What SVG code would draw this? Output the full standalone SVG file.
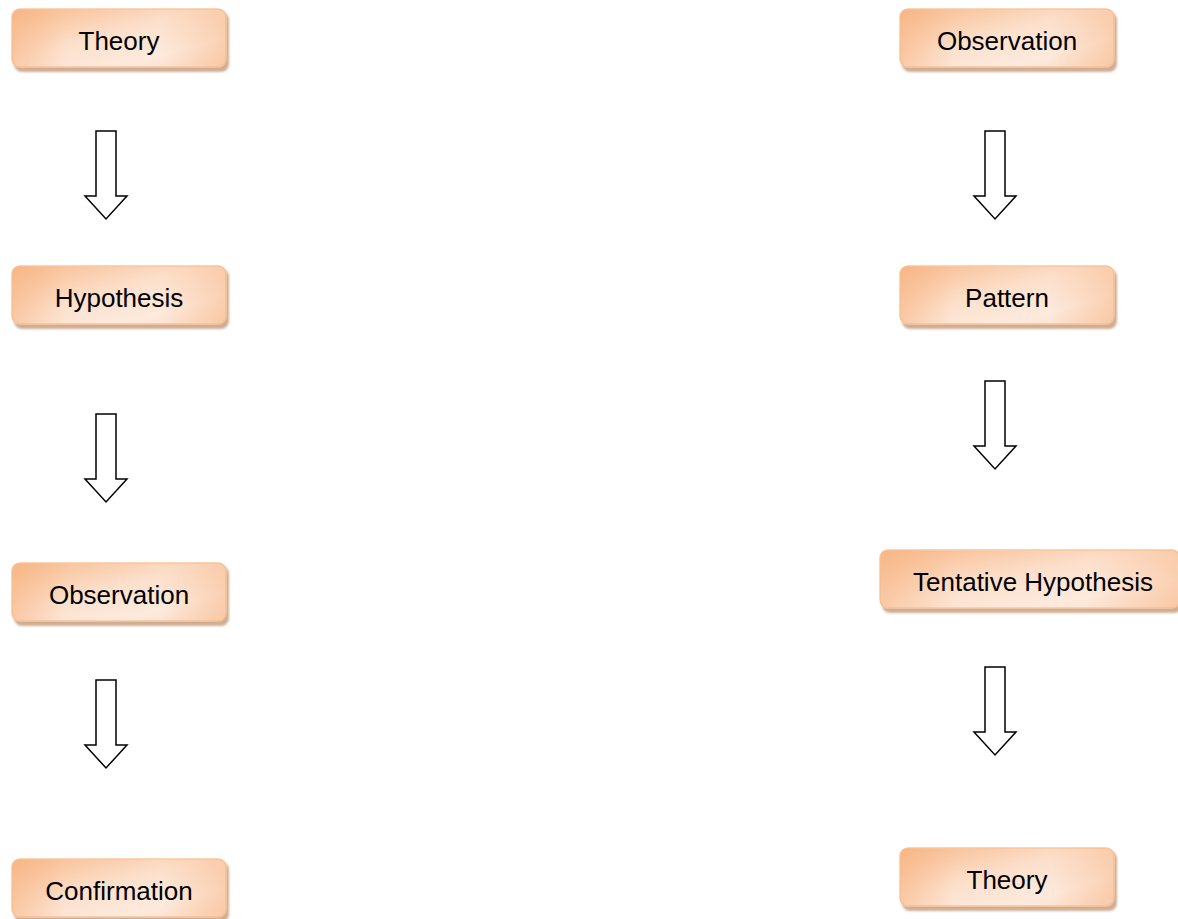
<svg xmlns="http://www.w3.org/2000/svg" width="1178" height="919" viewBox="0 0 1178 919">
<defs>
<linearGradient id="g" x1="0" y1="0" x2="1" y2="1">
<stop offset="0" stop-color="#F8B98A"/>
<stop offset="0.45" stop-color="#FCE0CC"/>
<stop offset="0.75" stop-color="#FDEADD"/>
<stop offset="1" stop-color="#FBDCC6"/>
</linearGradient>
<linearGradient id="g2" x1="0" y1="0" x2="1" y2="0">
<stop offset="0" stop-color="#F7B483" stop-opacity="0.55"/>
<stop offset="0.25" stop-color="#F7B483" stop-opacity="0"/>
<stop offset="0.7" stop-color="#F7B483" stop-opacity="0"/>
<stop offset="1" stop-color="#F7B483" stop-opacity="0.5"/>
</linearGradient>
<filter id="sh" x="-10%" y="-20%" width="120%" height="150%">
<feGaussianBlur stdDeviation="0.8"/>
</filter>
</defs>
<style>
.sh{fill:#C49A7A;opacity:0.8;filter:url(#sh)}
.bx{fill:url(#g);stroke:#F9C7A0;stroke-width:1.5}
.ov{fill:url(#g2)}
.t{font-family:"Liberation Sans",Arial,sans-serif;font-size:26px;fill:#000;text-anchor:middle}
.ar{fill:#fff;stroke:#000;stroke-width:1.5;stroke-linejoin:miter}
</style>
<g id="n-theory-l">
<rect class="sh" x="14" y="12" width="215" height="60" rx="8"/>
<rect class="bx" x="12" y="9" width="214" height="58" rx="8"/>
<rect class="ov" x="12" y="9" width="214" height="58" rx="8"/>
<text class="t" x="119" y="50">Theory</text>
</g>
<g id="n-hypothesis-l">
<rect class="sh" x="14" y="269" width="215" height="60" rx="8"/>
<rect class="bx" x="12" y="266" width="214" height="58" rx="8"/>
<rect class="ov" x="12" y="266" width="214" height="58" rx="8"/>
<text class="t" x="119" y="307">Hypothesis</text>
</g>
<g id="n-observation-l">
<rect class="sh" x="14" y="566" width="215" height="60" rx="8"/>
<rect class="bx" x="12" y="563" width="214" height="58" rx="8"/>
<rect class="ov" x="12" y="563" width="214" height="58" rx="8"/>
<text class="t" x="119" y="604">Observation</text>
</g>
<g id="n-confirmation-l">
<rect class="sh" x="14" y="862" width="215" height="60" rx="8"/>
<rect class="bx" x="12" y="859" width="214" height="58" rx="8"/>
<rect class="ov" x="12" y="859" width="214" height="58" rx="8"/>
<text class="t" x="119" y="900">Confirmation</text>
</g>
<g id="n-observation-r">
<rect class="sh" x="902" y="12" width="215" height="60" rx="8"/>
<rect class="bx" x="900" y="9" width="214" height="58" rx="8"/>
<rect class="ov" x="900" y="9" width="214" height="58" rx="8"/>
<text class="t" x="1007" y="50">Observation</text>
</g>
<g id="n-pattern-r">
<rect class="sh" x="902" y="269" width="215" height="60" rx="8"/>
<rect class="bx" x="900" y="266" width="214" height="58" rx="8"/>
<rect class="ov" x="900" y="266" width="214" height="58" rx="8"/>
<text class="t" x="1007" y="307">Pattern</text>
</g>
<g id="n-tentative-r">
<rect class="sh" x="882" y="553" width="300" height="60" rx="8"/>
<rect class="bx" x="880" y="550" width="300" height="58" rx="8"/>
<rect class="ov" x="880" y="550" width="300" height="58" rx="8"/>
<text class="t" x="1033" y="591">Tentative Hypothesis</text>
</g>
<g id="n-theory-r">
<rect class="sh" x="902" y="851" width="215" height="60" rx="8"/>
<rect class="bx" x="900" y="848" width="214" height="58" rx="8"/>
<rect class="ov" x="900" y="848" width="214" height="58" rx="8"/>
<text class="t" x="1007" y="889">Theory</text>
</g>
<g id="connectors">
<path class="ar" d="M96,131 H116 V196 H127 L106,219 L85,196 H96 Z"/>
<path class="ar" d="M96,414 H116 V479 H127 L106,502 L85,479 H96 Z"/>
<path class="ar" d="M96,680 H116 V745 H127 L106,768 L85,745 H96 Z"/>
<path class="ar" d="M985,131 H1005 V196 H1016 L995,219 L974,196 H985 Z"/>
<path class="ar" d="M985,381 H1005 V446 H1016 L995,469 L974,446 H985 Z"/>
<path class="ar" d="M985,667 H1005 V732 H1016 L995,755 L974,732 H985 Z"/>
</g>
</svg>
